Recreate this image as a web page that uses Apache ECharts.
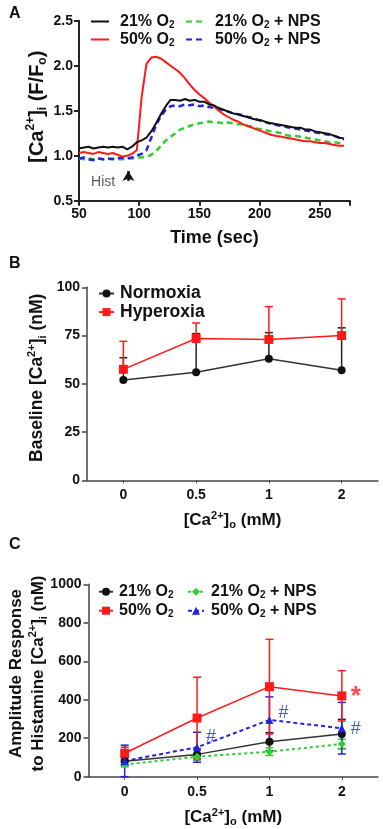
<!DOCTYPE html>
<html>
<head>
<meta charset="utf-8">
<script src="https://cdn.jsdelivr.net/npm/echarts@6/dist/echarts.min.js"></script>
<style>
  html, body { margin: 0; padding: 0; background: #fff; }
  #chart { width: 383px; height: 829px; }
</style>
</head>
<body>
<div id="chart"></div>
<script>
// ---- Panel A: [Ca2+]i traces (F/Fo) ----
const timeA = [50, 54, 58, 62, 66, 70, 74, 78, 82, 86, 90, 94, 98, 102, 106, 110, 114, 118, 122, 126,
  130, 134, 138, 142, 146, 150, 154, 158, 162, 166, 170, 174, 178, 182, 186, 190, 194, 198, 202, 206,
  210, 214, 218, 222, 226, 230, 234, 238, 242, 246, 250, 254, 258, 262, 266, 270];
const trace21 = [1.08, 1.09, 1.10, 1.08, 1.09, 1.10, 1.09, 1.10, 1.09, 1.10, 1.07, 1.10, 1.15, 1.17, 1.20, 1.27, 1.36, 1.46, 1.55, 1.62,
  1.62, 1.61, 1.63, 1.61, 1.62, 1.60, 1.60, 1.57, 1.56, 1.53, 1.51, 1.49, 1.47, 1.46, 1.44, 1.43, 1.41, 1.40, 1.39, 1.37,
  1.36, 1.35, 1.34, 1.33, 1.32, 1.31, 1.31, 1.29, 1.29, 1.27, 1.26, 1.25, 1.24, 1.22, 1.20, 1.19];
const trace50 = [1.03, 1.04, 1.03, 1.02, 1.04, 1.03, 1.02, 1.03, 1.01, 0.99, 1.00, 1.02, 1.06, 1.65, 2.02, 2.09, 2.10, 2.08, 2.04, 2.00,
  1.96, 1.92, 1.86, 1.79, 1.73, 1.68, 1.64, 1.59, 1.55, 1.50, 1.46, 1.43, 1.40, 1.38, 1.35, 1.33, 1.31, 1.29, 1.27, 1.25,
  1.23, 1.22, 1.21, 1.20, 1.19, 1.18, 1.17, 1.16, 1.16, 1.15, 1.14, 1.14, 1.13, 1.12, 1.11, 1.11];
const trace21Nps = [0.97, 0.96, 0.97, 0.96, 0.97, 0.96, 0.96, 0.97, 0.96, 0.96, 0.97, 0.97, 0.98, 0.98, 0.99, 1.01, 1.05, 1.11, 1.17, 1.21,
  1.25, 1.29, 1.31, 1.33, 1.35, 1.36, 1.37, 1.38, 1.37, 1.37, 1.36, 1.37, 1.36, 1.35, 1.35, 1.33, 1.32, 1.30, 1.29, 1.28,
  1.27, 1.26, 1.25, 1.23, 1.22, 1.22, 1.21, 1.20, 1.19, 1.18, 1.17, 1.16, 1.15, 1.15, 1.14, 1.13];
const trace50Nps = [0.97, 0.98, 0.96, 0.95, 0.97, 0.96, 0.97, 0.96, 0.97, 0.98, 0.97, 0.98, 1.00, 1.02, 1.06, 1.20, 1.34, 1.44, 1.51, 1.55,
  1.56, 1.55, 1.57, 1.56, 1.57, 1.55, 1.56, 1.54, 1.53, 1.52, 1.50, 1.49, 1.47, 1.46, 1.45, 1.43, 1.42, 1.40, 1.38, 1.37,
  1.35, 1.34, 1.33, 1.32, 1.31, 1.30, 1.29, 1.28, 1.27, 1.26, 1.25, 1.24, 1.23, 1.22, 1.20, 1.18];
const histArrow = [91, 0.72, 0.83]; // x (sec), tail y, head y
const histLabel = [70, 0.71];

// ---- Panel B: baseline [Ca2+]i (nM) ----
const caLevels = ['0', '0.5', '1', '2'];
const normoxia = [52, 56, 63, 57];
const normoxiaSem = [11.5, 20, 13.5, 22];
const hyperoxia = [57.5, 73.5, 73, 75];
const hyperoxiaSem = [14.5, 8, 17, 19];

// ---- Panel C: amplitude response (nM) ----
const amp21 = [80, 116, 182, 222];
const amp21Sem = [20, 28, 47, 76];
const amp50 = [122, 305, 468, 420];
const amp50Sem = [31, 212, 246, 131];
const amp21Nps = [63, 104, 130, 170];
const amp21NpsSem = [12, 15, 20, 25];
const amp50Nps = [82, 153, 295, 252];
const amp50NpsSem = [82, 78, 120, 134];
const sigIndex = [1, 2, 3, 3]; // category index of each significance mark
const sigValue = [205, 333, 246, 416];
const sigText = ['#', '#', '#', '*'];

const FONT = 'Liberation Sans';
const BLACK = '#111111';
const RED = '#ff1a1a';
const GREEN = '#33cc33';
const BLUE = '#2323e0';

const chart = echarts.init(document.getElementById('chart'), null, { renderer: 'canvas' });

function richStyles(size, lh) {
  return {
    b: { fontFamily: FONT, fontWeight: 'bold', fontSize: size, lineHeight: lh, color: '#111' },
    sup: { fontFamily: FONT, fontWeight: 'bold', fontSize: Math.round(size * 0.62), lineHeight: Math.round(lh * 0.55), verticalAlign: 'top', color: '#111' },
    sub: { fontFamily: FONT, fontWeight: 'bold', fontSize: Math.round(size * 0.62), lineHeight: Math.round(lh * 0.55), verticalAlign: 'bottom', color: '#111' }
  };
}

const legendNames = {
  a21: '{b|21% O}{sub|2}',
  a50: '{b|50% O}{sub|2}',
  a21n: '{b|21% O}{sub|2}{b| + NPS}',
  a50n: '{b|50% O}{sub|2}{b| + NPS}',
  bN: '{b|Normoxia}',
  bH: '{b|Hyperoxia}',
  c21: '{b|21% O}{sub|2}',
  c50: '{b|50% O}{sub|2}',
  c21n: '{b|21% O}{sub|2}{b| + NPS}',
  c50n: '{b|50% O}{sub|2}{b| + NPS}'
};

function legend(names, left, top, size, lh, gap, iw, pad, hideSymbol) {
  const l = {
    data: names, left: left, top: top, orient: 'vertical', padding: 0,
    itemGap: gap, itemWidth: iw, itemHeight: 10, selectedMode: false,
    formatter: n => legendNames[n],
    textStyle: { padding: [0, 0, 0, pad], rich: richStyles(size, lh) }
  };
  if (hideSymbol) l.itemStyle = { opacity: 0, color: 'rgba(0,0,0,0)', borderWidth: 0 };
  return l;
}

function errorBars(both) {
  return function (params, api) {
    const x = api.value(0), v = api.value(1), e = api.value(2);
    const top = api.coord([x, v + e]);
    const bot = api.coord([x, both ? Math.max(v - e, 0) : v]);
    const color = api.visual('color');
    const hw = 4;
    const style = { stroke: color, lineWidth: 1.5 };
    const children = [
      { type: 'line', shape: { x1: top[0], y1: top[1], x2: bot[0], y2: bot[1] }, style: style },
      { type: 'line', shape: { x1: top[0] - hw, y1: top[1], x2: top[0] + hw, y2: top[1] }, style: style }
    ];
    if (both) children.push({ type: 'line', shape: { x1: bot[0] - hw, y1: bot[1], x2: bot[0] + hw, y2: bot[1] }, style: style });
    return { type: 'group', children: children };
  };
}

function errSeries(name, xi, yi, vals, sems, color, both) {
  return {
    type: 'custom', name: name + 'Err', xAxisIndex: xi, yAxisIndex: yi,
    itemStyle: { color: color }, silent: true, z: 1,
    renderItem: errorBars(both),
    data: vals.map((v, i) => [i, v, sems[i]])
  };
}

const axisLineDark = { show: true, lineStyle: { color: '#222', width: 2 } };
const axisLineGrey = { show: true, lineStyle: { color: '#444', width: 1.5 } };
const tickLabel = { fontFamily: FONT, fontWeight: 'bold', fontSize: 14, color: '#111' };

const option = {
  animation: false,
  backgroundColor: '#fff',
  grid: [
    { left: 79, right: 33, top: 20.7, height: 180 },
    { left: 87, right: 5, top: 287.3, height: 193 },
    { left: 87, right: 5, top: 584.3, height: 192.4 }
  ],
  legend: [
    legend(['a21', 'a50'], 90, 13.5, 16, 18, 1, 18, 6, true),
    legend(['a21n', 'a50n'], 185, 13.5, 16, 18, 1, 18, 6, true),
    legend(['bN', 'bH'], 98, 284.5, 17.5, 16, 0.6, 15, 1, false),
    legend(['c21', 'c50'], 98, 583.7, 16, 18, 2, 14, 1, false),
    legend(['c21n', 'c50n'], 187, 583.7, 16, 18, 2, 16, 2, false)
  ],
  xAxis: [
    {
      gridIndex: 0, type: 'value', min: 50, max: 275, interval: 50,
      axisLine: axisLineDark, axisTick: { show: true, length: 5, lineStyle: { color: '#222', width: 2 } },
      axisLabel: Object.assign({ margin: 6, customValues: [50, 100, 150, 200, 250] }, tickLabel),
      splitLine: { show: false },
      name: '{b|Time (sec)}', nameLocation: 'middle', nameGap: 27,
      nameTextStyle: { rich: richStyles(18, 20) }
    },
    {
      gridIndex: 1, type: 'category', data: caLevels, boundaryGap: true,
      axisLine: axisLineGrey, axisTick: { show: true, alignWithLabel: true, length: 3, lineStyle: { color: '#444' } },
      axisLabel: Object.assign({ margin: 8 }, tickLabel),
      name: '{b|[Ca}{sup|2+}{b|]}{sub|o}{b| (mM)}', nameLocation: 'middle', nameGap: 30,
      nameTextStyle: { rich: richStyles(17, 20) }
    },
    {
      gridIndex: 2, type: 'category', data: caLevels, boundaryGap: true,
      axisLine: axisLineGrey, axisTick: { show: true, alignWithLabel: true, length: 3, lineStyle: { color: '#444' } },
      axisLabel: Object.assign({ margin: 8 }, tickLabel),
      name: '{b|[Ca}{sup|2+}{b|]}{sub|o}{b| (mM)}', nameLocation: 'middle', nameGap: 31,
      nameTextStyle: { rich: richStyles(17, 20) }
    }
  ],
  yAxis: [
    {
      gridIndex: 0, type: 'value', min: 0.5, max: 2.5, interval: 0.5,
      axisLine: axisLineDark, axisTick: { show: true, length: 5, lineStyle: { color: '#222', width: 2 } },
      axisLabel: Object.assign({ margin: 6, formatter: v => v.toFixed(1) }, tickLabel),
      splitLine: { show: false },
      name: '{b|[Ca}{sup|2+}{b|]}{sub|i}{b| (F/F}{sub|o}{b|)}', nameLocation: 'middle', nameRotate: 90, nameGap: 30,
      nameMoveOverlap: false,
      nameTextStyle: { rich: richStyles(20, 24), padding: [0, 0, 0, 8] }
    },
    {
      gridIndex: 1, type: 'value', min: 0, max: 100, interval: 25,
      axisLine: axisLineGrey, axisTick: { show: true, length: 5, lineStyle: { color: '#444', width: 1.5 } },
      axisLabel: Object.assign({ margin: 7 }, tickLabel),
      splitLine: { show: false },
      name: '{b|Baseline [Ca}{sup|2+}{b|]}{sub|i}{b| (nM)}', nameLocation: 'middle', nameRotate: 90, nameGap: 39,
      nameMoveOverlap: false,
      nameTextStyle: { rich: richStyles(17.5, 22), padding: [0, 0, 0, 12] }
    },
    {
      gridIndex: 2, type: 'value', min: 0, max: 1000, interval: 200,
      axisLine: axisLineGrey, axisTick: { show: true, length: 5, lineStyle: { color: '#444', width: 1.5 } },
      axisLabel: Object.assign({ margin: 7, formatter: v => String(v) }, tickLabel),
      splitLine: { show: false },
      name: '{b|Amplitude Response}\n{b|to Histamine [Ca}{sup|2+}{b|]}{sub|i}{b| (nM)}', nameLocation: 'middle', nameRotate: 90, nameGap: 39,
      nameMoveOverlap: false,
      nameTextStyle: { rich: richStyles(17, 22), padding: [0, 0, 0, 14] }
    }
  ],
  graphic: [
    { type: 'text', left: 9, top: 6, style: { text: 'A', font: 'bold 16px "Liberation Sans"', fill: '#111' } },
    { type: 'text', left: 9, top: 256, style: { text: 'B', font: 'bold 16px "Liberation Sans"', fill: '#111' } },
    { type: 'text', left: 9, top: 537, style: { text: 'C', font: 'bold 16px "Liberation Sans"', fill: '#111' } }
  ],
  series: [
    // Panel A
    {
      name: 'a21', type: 'line', xAxisIndex: 0, yAxisIndex: 0, showSymbol: false, symbol: 'none',
      color: BLACK, lineStyle: { width: 2, color: BLACK }, z: 4,
      data: timeA.map((t, i) => [t, trace21[i]]),
      markLine: {
        silent: true, symbol: ['none', 'arrow'], symbolSize: [9, 10],
        label: { show: false }, lineStyle: { color: '#111', width: 2.5, type: 'solid' },
        data: [[{ coord: [histArrow[0], histArrow[1]] }, { coord: [histArrow[0], histArrow[2]] }]]
      }
    },
    {
      name: 'a50', type: 'line', xAxisIndex: 0, yAxisIndex: 0, showSymbol: false, symbol: 'none',
      color: RED, lineStyle: { width: 2, color: RED }, z: 3,
      data: timeA.map((t, i) => [t, trace50[i]])
    },
    {
      name: 'a21n', type: 'line', xAxisIndex: 0, yAxisIndex: 0, showSymbol: false, symbol: 'none',
      color: GREEN, lineStyle: { width: 2.5, color: GREEN, type: [6, 4] }, z: 2,
      data: timeA.map((t, i) => [t, trace21Nps[i]])
    },
    {
      name: 'a50n', type: 'line', xAxisIndex: 0, yAxisIndex: 0, showSymbol: false, symbol: 'none',
      color: BLUE, lineStyle: { width: 2.5, color: BLUE, type: [6, 4] }, z: 2,
      data: timeA.map((t, i) => [t, trace50Nps[i]])
    },
    {
      type: 'scatter', xAxisIndex: 0, yAxisIndex: 0, symbolSize: 1, silent: true,
      itemStyle: { color: 'rgba(0,0,0,0)' },
      label: { show: true, position: 'inside', formatter: 'Hist', fontFamily: FONT, fontSize: 14, color: '#333' },
      data: [histLabel]
    },
    // Panel B
    errSeries('bN', 1, 1, normoxia, normoxiaSem, '#222', false),
    errSeries('bH', 1, 1, hyperoxia, hyperoxiaSem, RED, false),
    {
      name: 'bN', type: 'line', xAxisIndex: 1, yAxisIndex: 1, symbol: 'circle', symbolSize: 8,
      color: '#111', lineStyle: { width: 1.5, color: '#333' }, z: 3, data: normoxia
    },
    {
      name: 'bH', type: 'line', xAxisIndex: 1, yAxisIndex: 1, symbol: 'rect', symbolSize: 9,
      color: RED, lineStyle: { width: 1.5, color: RED }, z: 4, data: hyperoxia
    },
    // Panel C
    errSeries('c21', 2, 2, amp21, amp21Sem, '#222', true),
    errSeries('c21n', 2, 2, amp21Nps, amp21NpsSem, GREEN, true),
    errSeries('c50n', 2, 2, amp50Nps, amp50NpsSem, BLUE, true),
    errSeries('c50', 2, 2, amp50, amp50Sem, RED, true),
    {
      name: 'c21', type: 'line', xAxisIndex: 2, yAxisIndex: 2, symbol: 'circle', symbolSize: 8,
      color: '#111', lineStyle: { width: 1.5, color: '#333' }, z: 3, data: amp21
    },
    {
      name: 'c21n', type: 'line', xAxisIndex: 2, yAxisIndex: 2, symbol: 'diamond', symbolSize: 8,
      color: GREEN, lineStyle: { width: 2, color: GREEN, type: [3, 3] }, z: 3, data: amp21Nps
    },
    {
      name: 'c50n', type: 'line', xAxisIndex: 2, yAxisIndex: 2, symbol: 'triangle', symbolSize: 8,
      color: BLUE, lineStyle: { width: 2, color: BLUE, type: [4, 3] }, z: 3, data: amp50Nps
    },
    {
      name: 'c50', type: 'line', xAxisIndex: 2, yAxisIndex: 2, symbol: 'rect', symbolSize: 9,
      color: RED, lineStyle: { width: 1.5, color: RED }, z: 4, data: amp50
    },
    {
      type: 'scatter', xAxisIndex: 2, yAxisIndex: 2, symbolSize: 1, silent: true, z: 5,
      itemStyle: { color: 'rgba(0,0,0,0)' },
      data: sigIndex.map((x, i) => ({
        value: [x, sigValue[i]],
        label: {
          show: true, position: 'inside', offset: [14, 0], formatter: sigText[i],
          fontFamily: FONT, fontSize: sigText[i] === '*' ? 26 : 18,
          fontWeight: sigText[i] === '*' ? 'bold' : 'normal',
          color: sigText[i] === '*' ? RED : BLUE
        }
      }))
    }
  ]
};

chart.setOption(option);
</script>
</body>
</html>
